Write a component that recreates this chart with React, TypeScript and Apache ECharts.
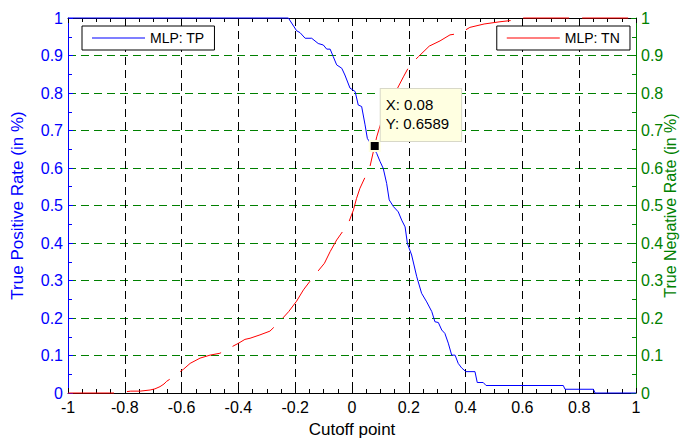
import React, { useEffect, useRef } from "react";
import * as echarts from "echarts";

// Cutoff point (x) and True Positive Rate (y) for MLP: TP
const tpX = [-1, -0.224, -0.195, -0.183, -0.165, -0.142, -0.119, -0.101, -0.089, -0.077, -0.066, -0.054, -0.036, -0.025, -0.007, 0.011, 0.022, 0.034, 0.046, 0.054, 0.087, 0.099, 0.11, 0.122, 0.131, 0.146, 0.157, 0.163, 0.175, 0.187, 0.195, 0.21, 0.228, 0.245, 0.263, 0.281, 0.292, 0.304, 0.316, 0.327, 0.339, 0.351, 0.363, 0.374, 0.386, 0.401, 0.433, 0.441, 0.462, 0.472, 0.744, 0.75, 0.85, 0.856, 1];
const tpY = [1, 1, 0.966, 0.961, 0.946, 0.946, 0.932, 0.928, 0.917, 0.917, 0.897, 0.875, 0.866, 0.848, 0.813, 0.804, 0.768, 0.764, 0.715, 0.679, 0.639, 0.617, 0.599, 0.559, 0.515, 0.497, 0.488, 0.483, 0.461, 0.443, 0.399, 0.368, 0.31, 0.266, 0.243, 0.217, 0.19, 0.188, 0.168, 0.159, 0.133, 0.101, 0.101, 0.079, 0.067, 0.057, 0.057, 0.028, 0.028, 0.02, 0.02, 0.01, 0.01, 0, 0];

// Cutoff point (x) and True Negative Rate (y) for MLP: TN
const tnX = [-1, -0.83, -0.779, -0.746, -0.711, -0.694, -0.676, -0.662, -0.653, -0.641, -0.631, -0.594, -0.57, -0.535, -0.5, -0.465, -0.446, -0.399, -0.377, -0.359, -0.324, -0.289, -0.259, -0.223, -0.195, -0.171, -0.136, -0.097, -0.077, -0.054, -0.013, 0.005, 0.016, 0.028, 0.063, 0.087, 0.105, 0.157, 0.181, 0.204, 0.234, 0.272, 0.31, 0.345, 0.38, 0.415, 0.465, 0.521, 0.592, 0.6, 1];
const tnY = [0, 0, 0.005, 0.005, 0.008, 0.011, 0.017, 0.024, 0.031, 0.037, 0.043, 0.063, 0.079, 0.093, 0.101, 0.106, 0.114, 0.133, 0.143, 0.146, 0.155, 0.165, 0.187, 0.217, 0.245, 0.275, 0.31, 0.346, 0.377, 0.408, 0.452, 0.488, 0.519, 0.546, 0.603, 0.683, 0.728, 0.808, 0.843, 0.875, 0.897, 0.925, 0.939, 0.955, 0.959, 0.975, 0.984, 0.99, 0.996, 1, 1];

const seriesNames = ["MLP: TP", "MLP: TN"];
const tipX = 0.08;
const tipY = 0.6589;

const FONT = "'Liberation Sans', Arial, Helvetica, sans-serif";
const BLUE = "#0000ff";
const RED = "#ff0000";
const GREEN = "#008000";

export default function App() {
  const ref = useRef<HTMLDivElement>(null);
  useEffect(() => {
    if (!ref.current) return;
    const chart = echarts.init(ref.current, null, { renderer: "svg" });
    const xCommon = {
      type: "value",
      min: -1,
      max: 1,
      interval: 0.2,
      z: 0,
      axisLine: { show: true, onZero: false, lineStyle: { color: "#000", width: 1 } },
      axisTick: { show: true, inside: true, length: 5, lineStyle: { color: "#000" } },
      minorTick: { show: true, splitNumber: 4, length: 4, lineStyle: { color: "#000" } },
    };
    const yCommon = (color: string) => ({
      type: "value",
      min: 0,
      max: 1,
      interval: 0.1,
      z: 0,
      nameLocation: "middle",
      nameRotate: 90,
      axisLine: { show: true, onZero: false, lineStyle: { color, width: 1 } },
      axisTick: { show: true, inside: true, length: 5, lineStyle: { color } },
      minorTick: { show: true, splitNumber: 2, length: 4, lineStyle: { color } },
      axisLabel: { color, fontSize: 16, fontFamily: FONT, margin: 5 },
    });
    const legendCommon = {
      icon: "rect",
      itemWidth: 53,
      itemHeight: 1,
      backgroundColor: "#fff",
      borderColor: "#000",
      borderWidth: 1,
      borderRadius: 0,
      padding: [5, 10, 5, 10],
      selectedMode: false,
      textStyle: { color: "#000", fontSize: 14, fontFamily: FONT },
    };
    chart.setOption({
      animation: false,
      backgroundColor: "#fff",
      grid: { left: 68, right: 47, top: 18, bottom: 45, containLabel: false, outerBoundsMode: "none" },
      legend: [
        { ...legendCommon, data: [seriesNames[0]], left: 82, top: 26 },
        { ...legendCommon, data: [seriesNames[1]], right: 53, top: 26 },
      ],
      xAxis: [
        {
          ...xCommon,
          position: "bottom",
          name: "Cutoff point",
          nameLocation: "middle",
          nameGap: 28,
          nameTextStyle: { color: "#000", fontSize: 17, fontFamily: FONT },
          axisLabel: { color: "#000", fontSize: 16, fontFamily: FONT, margin: 6 },
          splitLine: { show: true, lineStyle: { color: "#000", width: 1, type: [8, 5] } },
        },
        {
          ...xCommon,
          position: "top",
          axisLabel: { show: false },
          splitLine: { show: false },
        },
      ],
      yAxis: [
        {
          ...yCommon(BLUE),
          position: "left",
          name: "True Positive Rate (in %)",
          nameGap: 42,
          nameTextStyle: { color: BLUE, fontSize: 17, fontFamily: FONT },
          splitLine: { show: false },
        },
        {
          ...yCommon(GREEN),
          position: "right",
          name: "True Negative Rate (in %)",
          nameGap: 26,
          nameMoveOverlap: false,
          nameTextStyle: { color: GREEN, fontSize: 16, fontFamily: FONT },
          splitLine: { show: true, lineStyle: { color: GREEN, width: 1, type: [8, 5] } },
        },
      ],
      series: [
        {
          name: seriesNames[0],
          type: "line",
          xAxisIndex: 0,
          yAxisIndex: 0,
          z: 3,
          clip: false,
          symbol: "none",
          showSymbol: false,
          data: tpX.map((x, i) => [x, tpY[i]]),
          lineStyle: { color: BLUE, width: 1 },
          itemStyle: { color: BLUE },
        },
        {
          name: seriesNames[1],
          type: "line",
          xAxisIndex: 0,
          yAxisIndex: 1,
          z: 4,
          clip: false,
          symbol: "none",
          showSymbol: false,
          data: tnX.map((x, i) => [x, tnY[i]]),
          lineStyle: { color: RED, width: 1, type: [46, 13] },
          itemStyle: { color: RED },
          markPoint: {
            silent: true,
            animation: false,
            data: [
              {
                coord: [tipX, tipY],
                symbol: "rect",
                symbolSize: 10,
                itemStyle: { color: "#000", borderColor: "#ffffe1", borderWidth: 2 },
                label: {
                  show: true,
                  position: [12, -51],
                  align: "left",
                  verticalAlign: "top",
                  formatter: `X: ${tipX}\nY: ${tipY}`,
                  color: "#000",
                  fontSize: 15,
                  fontFamily: FONT,
                  lineHeight: 19,
                  backgroundColor: "#ffffe1",
                  borderColor: "#d8d8c8",
                  borderWidth: 1,
                  padding: [6, 12, 8, 5],
                },
              },
            ],
          },
        },
      ],
    });
    return () => chart.dispose();
  }, []);
  return (
    <div
      ref={ref}
      style={{ position: "absolute", left: 0, top: 0, width: 683, height: 438 }}
    />
  );
}
